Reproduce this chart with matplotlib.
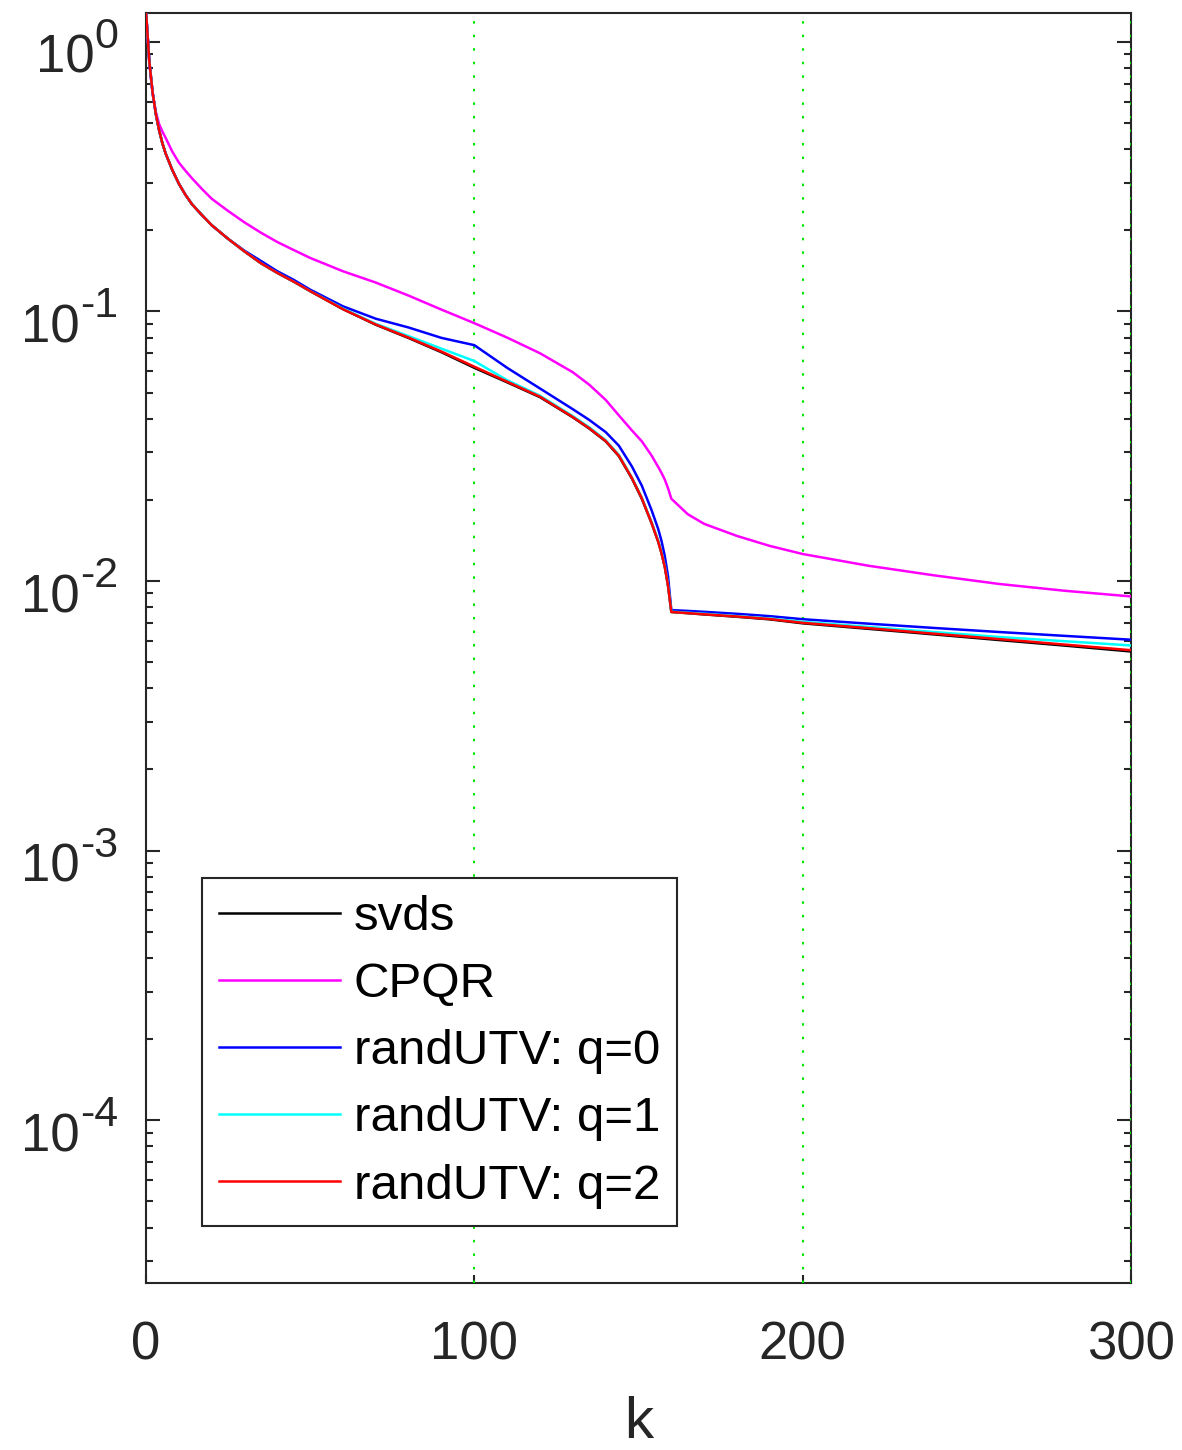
import numpy as np
import matplotlib
matplotlib.use('Agg')
import matplotlib.pyplot as plt
from matplotlib.ticker import FixedLocator, LogLocator, NullFormatter

plt.rcParams['font.family'] = ['Liberation Sans', 'DejaVu Sans']

k = [0, 1, 2, 3, 4, 5, 6, 8, 10, 12, 14, 17, 20, 25, 30, 35, 40, 45, 50, 60, 70, 80, 90,
     100, 110, 120, 130, 135, 140, 144, 148, 151, 154, 156, 157, 158, 159, 160,
     165, 170, 180, 190, 200, 220, 240, 260, 280, 300]

svds = [1.30, 0.85, 0.65, 0.54, 0.47, 0.42, 0.385, 0.335, 0.298, 0.271, 0.250, 0.228,
        0.209, 0.186, 0.167, 0.151, 0.139, 0.129, 0.119, 0.102, 0.0893, 0.0797, 0.0706,
        0.0618, 0.0546, 0.0481, 0.0405, 0.0368, 0.0330, 0.0291, 0.0240, 0.0202, 0.0164,
        0.0140, 0.0127, 0.0113, 0.0096, 0.00768,
        0.00760, 0.00752, 0.00737, 0.00721, 0.00697, 0.00665, 0.00634, 0.00604,
        0.00576, 0.00548]

cpqr = [1.30, 0.84, 0.645, 0.55, 0.495, 0.465, 0.44, 0.392, 0.357, 0.333, 0.312, 0.285,
        0.262, 0.236, 0.214, 0.196, 0.181, 0.169, 0.158, 0.141, 0.128, 0.1145, 0.1016,
        0.0905, 0.0800, 0.0700, 0.0595, 0.0535, 0.0470, 0.0412, 0.0362, 0.0330, 0.0292,
        0.0265, 0.0252, 0.0238, 0.0221, 0.0202,
        0.0177, 0.0163, 0.0147, 0.0135, 0.0126, 0.0114, 0.0105, 0.00975,
        0.00920, 0.00877]

utv_q0 = [1.30, 0.85, 0.65, 0.54, 0.47, 0.42, 0.385, 0.335, 0.298, 0.271, 0.250, 0.228,
          0.209, 0.186, 0.168, 0.154, 0.141, 0.131, 0.1205, 0.1045, 0.0940, 0.0872, 0.0798,
          0.0750, 0.0618, 0.0518, 0.0434, 0.0396, 0.0357, 0.0318, 0.0266, 0.0226, 0.0183,
          0.0156, 0.0141, 0.0124, 0.0104, 0.00780,
          0.00775, 0.00769, 0.00756, 0.00741, 0.00722, 0.00695, 0.00670, 0.00647,
          0.00626, 0.00606]

utv_q1 = [1.30, 0.85, 0.65, 0.54, 0.47, 0.42, 0.385, 0.335, 0.298, 0.271, 0.250, 0.228,
          0.209, 0.186, 0.167, 0.151, 0.139, 0.129, 0.119, 0.1025, 0.0900, 0.0810, 0.0728,
          0.0655, 0.0556, 0.0487, 0.0409, 0.0372, 0.0333, 0.0294, 0.0242, 0.0204, 0.0165,
          0.0141, 0.0128, 0.0114, 0.0097, 0.00770,
          0.00763, 0.00756, 0.00741, 0.00726, 0.00706, 0.00676, 0.00647, 0.00620,
          0.00598, 0.00577]

utv_q2 = [1.30, 0.85, 0.65, 0.54, 0.47, 0.42, 0.385, 0.335, 0.298, 0.271, 0.250, 0.228,
          0.209, 0.186, 0.167, 0.151, 0.139, 0.129, 0.119, 0.102, 0.0895, 0.0800, 0.0710,
          0.0624, 0.0549, 0.0483, 0.0406, 0.0369, 0.0331, 0.0292, 0.0241, 0.0203, 0.0164,
          0.0140, 0.0127, 0.0113, 0.0096, 0.00768,
          0.00761, 0.00753, 0.00739, 0.00723, 0.00700, 0.00669, 0.00638, 0.00609,
          0.00581, 0.00554]

series = [
    ('svds', svds, 'black'),
    ('CPQR', cpqr, '#ff00ff'),
    ('randUTV: q=0', utv_q0, '#0000ff'),
    ('randUTV: q=1', utv_q1, '#00ffff'),
    ('randUTV: q=2', utv_q2, '#ff0000'),
]

xticks = [0, 100, 200, 300]
grid_x = [100, 200, 300]
yticks = [1e0, 1e-1, 1e-2, 1e-3, 1e-4]
ytick_exp = ['0', '-1', '-2', '-3', '-4']

dark = (0.15, 0.15, 0.15)

fig = plt.figure(figsize=(11.82, 14.5), dpi=100)
ax = fig.add_axes([146 / 1182, 1 - 1283 / 1450, (1131 - 146) / 1182, (1283 - 13) / 1450])

# green dotted vertical grid, drawn over the box like matlab does
for gx in grid_x:
    ax.axvline(gx, color='#00e600', lw=1.5, linestyle=(0, (1.2, 5.3)), zorder=2.7)

for label, vals, col in series:
    ax.plot(k, vals, color=col, lw=1.8, label=label, zorder=3)

ax.set_yscale('log')
ax.set_xlim(0, 300)
ax.set_ylim(2.49e-5, 1.28)

ax.xaxis.set_major_locator(FixedLocator(xticks))
ax.yaxis.set_major_locator(FixedLocator(yticks))
ax.yaxis.set_minor_locator(LogLocator(base=10, subs=np.arange(2, 10), numticks=20))
ax.yaxis.set_minor_formatter(NullFormatter())

for s in ax.spines.values():
    s.set_color(dark)
    s.set_linewidth(1.5)

ax.tick_params(axis='both', which='both', direction='in', color=dark, labelcolor=dark, width=1.5)
ax.tick_params(axis='y', which='major', length=10, right=True, labelleft=False)
ax.tick_params(axis='y', which='minor', length=5, right=True)
ax.tick_params(axis='x', which='major', length=6, pad=27, labelsize=38, top=False)

ax.set_xlabel('k', fontsize=42, color=dark, labelpad=18)

leg = ax.legend(loc='lower left', bbox_to_anchor=(0.057, 0.045), borderaxespad=0,
                fontsize=35.5, handlelength=2.45, handletextpad=0.27, labelspacing=0.45,
                borderpad=0.35, fancybox=False, framealpha=1)
leg.get_frame().set_edgecolor(dark)
leg.get_frame().set_linewidth(1.5)
leg.set_zorder(5)

# y labels as "10" plus a raised exponent, matlab style
fig.canvas.draw()
renderer = fig.canvas.get_renderer()
for val, e in zip(yticks, ytick_exp):
    t_exp = ax.annotate(e, xy=(0, val), xycoords=('axes fraction', 'data'),
                        xytext=(-28, -6), textcoords='offset pixels',
                        ha='right', va='baseline', fontsize=31, color=dark,
                        annotation_clip=False)
    w = t_exp.get_window_extent(renderer).width
    ax.annotate('10', xy=(0, val), xycoords=('axes fraction', 'data'),
                xytext=(-28 - w, -31), textcoords='offset pixels',
                ha='right', va='baseline', fontsize=38, color=dark,
                annotation_clip=False)

fig.savefig('out.png', dpi=100)
